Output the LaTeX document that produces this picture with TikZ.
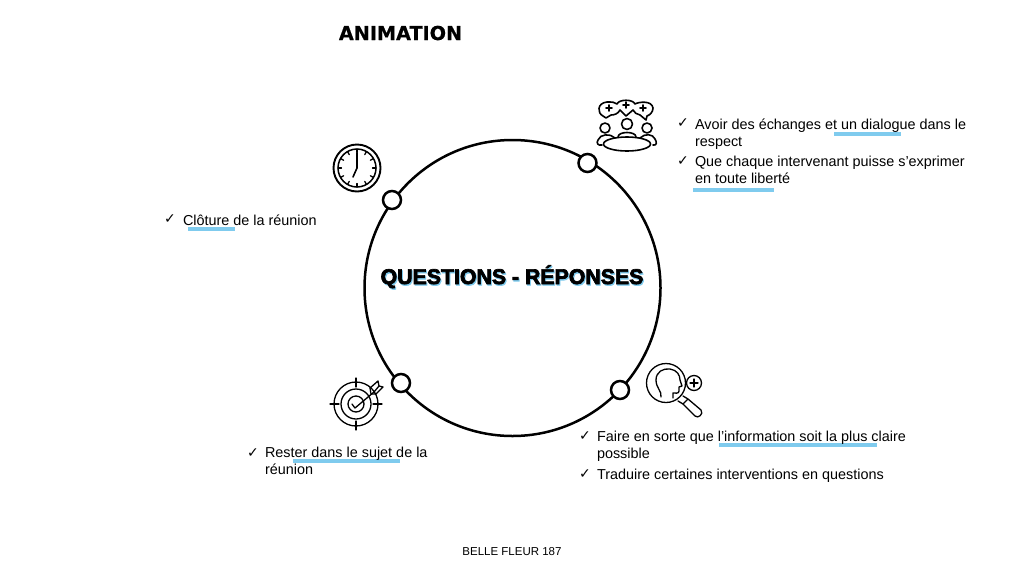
\documentclass[tikz,border=0pt]{standalone}
\usepackage{fontspec}
\setmainfont{Liberation Sans}
\newfontfamily\blk{Liberation Sans Bold}[FakeBold=3.2]
\newfontfamily\ttl{DejaVu Sans Bold}[FakeBold=0.5]
\newfontfamily\chk{DejaVu Sans}
\definecolor{ulblue}{HTML}{7FCBEE}
\newcommand{\tk}[3]{\node[chkmark] (#1) at (#2,#3) {\chk ✓};}
\tikzset{
  x=1pt,y=-1pt,
  body/.style={anchor=base west,inner sep=0pt,outer sep=0pt,align=left,font=\fontsize{14.4}{16.8}\selectfont},
  chkmark/.style={anchor=base,inner sep=0pt,font=\fontsize{14}{14}\selectfont},
  ul/.style={fill=ulblue,draw=none},
  ring/.style={draw=black,line width=2.5pt,fill=white,circle,minimum size=18pt,inner sep=0pt},
  ico/.style={draw=black,line width=1.3pt,line cap=round,line join=round},
  icb/.style={draw=black,line width=1.9pt,line cap=round,line join=round},
  icp/.style={draw=black,line width=1.6pt,line cap=round,line join=round}
}
\begin{document}
\begin{tikzpicture}
\useasboundingbox (0,0) rectangle (1024,576);
\fill[white] (0,0) rectangle (1024,576);
% underlines
\fill[ul] (834,132) rectangle (901,136);
\fill[ul] (693,188) rectangle (774,192);
\fill[ul] (188,227) rectangle (235,231);
\fill[ul] (293,459) rectangle (400,463);
\fill[ul] (719,443) rectangle (877,447);
% title
\node[inner sep=0pt,anchor=base] (title) at (400.5,40) {\fontsize{19.2}{19}\selectfont\ttl ANIMATION};
% main circle
\node[circle,draw=black,line width=2.5pt,minimum size=296pt,inner sep=0pt] (main) at (512.5,288) {};
\node[ring] (n1) at (587.5,163) {};
\node[ring] (n2) at (392,200) {};
\node[ring] (n3) at (401,383) {};
\node[ring] (n4) at (620,390) {};
% centre text
\node[inner sep=0pt,anchor=base,text=ulblue] (cshadow) at (513,285.4) {\fontsize{21.3}{20}\selectfont\blk QUESTIONS - RÉPONSES};
\node[inner sep=0pt,anchor=base] (ctext) at (512,284) {\fontsize{21.3}{20}\selectfont\blk QUESTIONS - RÉPONSES};
% texts
\tk{c1}{683}{127}
\node[body] (t1) at (695,146) {Avoir des échanges et un dialogue dans le\\respect};
\tk{c2}{683}{165}
\node[body] (t2) at (695,183) {Que chaque intervenant puisse s’exprimer\\en toute liberté};
\tk{c3}{170}{223}
\node[body] (t3) at (183,225) {Clôture de la réunion};
\tk{c4}{253}{457}
\node[body] (t4) at (265,474) {Rester dans le sujet de la\\réunion};
\tk{c5}{585}{440}
\node[body] (t5) at (597,458) {Faire en sorte que l’information soit la plus claire\\possible};
\tk{c6}{585}{478}
\node[body] (t6) at (597,479) {Traduire certaines interventions en questions};
\node[inner sep=0pt,anchor=base] (foot) at (512,555) {\fontsize{11.5}{12}\selectfont BELLE FLEUR 187};
% clock icon
\draw[icb] (357,168) circle (23.5);
\draw[ico,line width=1.5pt] (357,168) circle (19);
\draw[ico,line width=1.6pt] (357,153) -- (357,168) -- (353,177);
\foreach \a in {0,30,...,330}{\draw[ico] (357,168)++(\a:15.5) -- ++(\a:3.5);}
% target icon
\draw[ico] (356,404) circle (22);
\draw[ico] (356,404) circle (15);
\draw[ico] (356,404) circle (8);
\draw[ico] (330,404) -- (339,404) (373,404) -- (382,404) (356,378) -- (356,387) (356,421) -- (356,430);
\draw[ico] (352,404) -- (355,408) -- (374,392);
\draw[ico] (371,394) -- (370,388) -- (378,381) -- (379,386) -- (383,387) -- (376,394) -- cycle;
\draw[ico] (374,392) -- (379,386);
% head icon
\draw[ico] (666,383) circle (19.5);
\draw[ico] (694,383) circle (7.5);
\draw[ico] (694,379) -- (694,387) (690,383) -- (698,383);
\draw[ico] (661,397) .. controls (662,391) and (656,388) .. (656,380) .. controls (656,372) and (663,368) .. (670,369) .. controls (677,370) and (680,375) .. (680,380) -- (682,386) -- (679,387) -- (679,391) .. controls (679,394) and (675,393) .. (673,393) -- (673,398);
\draw[ico] (683,404) -- (688,399) -- (701,410) .. controls (704,414) and (698,419) .. (695,416) -- cycle;
\draw[ico] (683,396) -- (688,399) (678,401) -- (683,404);
% people icon
\draw[icp] (627,144) ellipse (23.5 and 7);
\draw[icp] (605,128) circle (5);
\draw[icp] (627,124) circle (5.5);
\draw[icp] (647,128) circle (5);
\draw[icp] (618,137) .. controls (618,131) and (636,131) .. (636,137);
\draw[icp] (602,145) .. controls (598,146) and (596,143) .. (598,140) .. controls (600,134) and (610,133) .. (615,138);
\draw[icp] (653,145) .. controls (657,146) and (657,142) .. (655,139) .. controls (653,134) and (645,133) .. (640,138);
\draw[icp] (603,116) .. controls (597,113) and (597,103) .. (607,102) .. controls (612,102) and (615,102) .. (617,104) .. controls (619,99) and (633,99) .. (635,104) .. controls (638,102) and (652,100) .. (653,108) .. controls (653,112) and (650,115) .. (647,116) -- (646,120) -- (640,115) .. controls (637,114) and (634,113) .. (633,110) -- (626,116) -- (620,110) .. controls (618,114) and (614,115) .. (611,115) -- (606,118) -- cycle;
\foreach \x/\y in {609/108,626/105,643/108}{\draw[icp] (\x-3,\y) -- (\x+3,\y) (\x,\y-3) -- (\x,\y+3);}
\end{tikzpicture}
\end{document}
